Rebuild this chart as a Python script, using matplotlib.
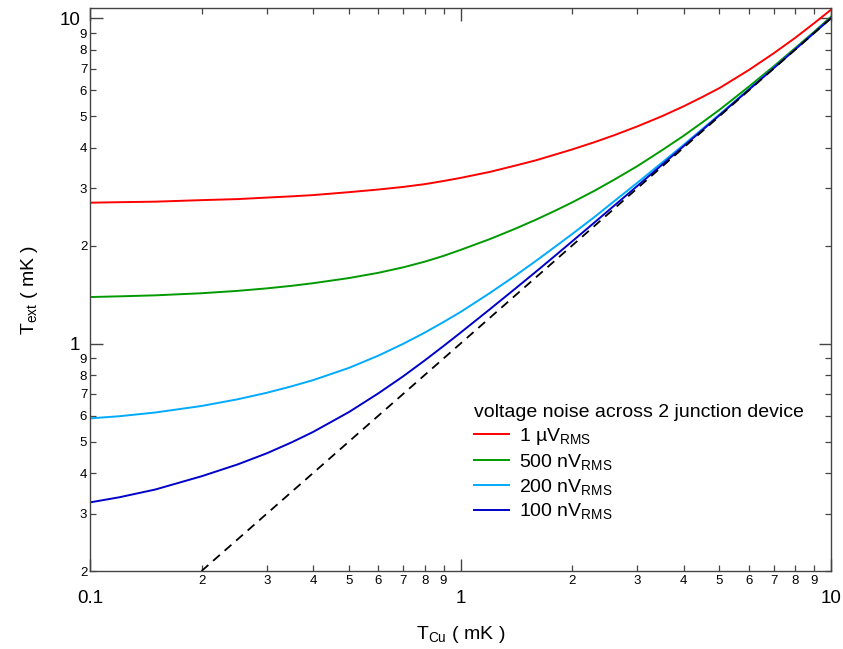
import numpy as np
import matplotlib
matplotlib.use("Agg")
from matplotlib import pyplot as plt
from matplotlib.ticker import LogLocator, FuncFormatter

plt.rcParams['font.family'] = ['Liberation Sans', 'DejaVu Sans']
plt.rcParams['mathtext.fontset'] = 'custom'
plt.rcParams['mathtext.rm'] = 'Liberation Sans'
plt.rcParams['mathtext.it'] = 'Liberation Sans:italic'

# T_Cu (mK) sample points
t_cu = [0.1, 0.12, 0.15, 0.2, 0.25, 0.3, 0.35, 0.4, 0.5, 0.6, 0.7, 0.8, 0.9, 1.0,
        1.2, 1.4, 1.6, 1.8, 2.0, 2.3, 2.6, 3.0, 3.5, 4.0, 4.5, 5.0, 6.0, 7.0, 8.0,
        9.0, 10.0]

# T_ext (mK) for each voltage noise level
t_1uv = [2.71, 2.72, 2.73, 2.76, 2.78, 2.81, 2.835, 2.86, 2.92, 2.975, 3.03, 3.09,
         3.16, 3.23, 3.37, 3.52, 3.66, 3.81, 3.95, 4.16, 4.37, 4.65, 5.0, 5.36, 5.73,
         6.1, 6.93, 7.8, 8.7, 9.65, 10.62]
t_500nv = [1.39, 1.397, 1.407, 1.428, 1.452, 1.478, 1.505, 1.533, 1.59, 1.65, 1.715,
           1.785, 1.86, 1.94, 2.095, 2.25, 2.405, 2.56, 2.715, 2.95, 3.19, 3.51, 3.93,
           4.35, 4.79, 5.23, 6.16, 7.11, 8.09, 9.08, 10.1]
t_200nv = [0.589, 0.598, 0.614, 0.643, 0.674, 0.706, 0.739, 0.772, 0.842, 0.918, 0.998,
           1.08, 1.165, 1.25, 1.43, 1.612, 1.797, 1.984, 2.17, 2.45, 2.74, 3.12, 3.6,
           4.08, 4.57, 5.06, 6.05, 7.04, 8.03, 9.02, 10.02]
t_100nv = [0.325, 0.337, 0.356, 0.391, 0.425, 0.46, 0.497, 0.535, 0.616, 0.703, 0.793,
           0.887, 0.983, 1.08, 1.275, 1.47, 1.665, 1.862, 2.06, 2.357, 2.655, 3.05,
           3.545, 4.04, 4.535, 5.03, 6.025, 7.02, 8.015, 9.01, 10.01]

labels = ['1 µV$_{\\mathrm{RMS}}$', '500 nV$_{\\mathrm{RMS}}$',
          '200 nV$_{\\mathrm{RMS}}$', '100 nV$_{\\mathrm{RMS}}$']
colors = ['#ff0000', '#009a00', '#00aaff', '#0000c8']

# ideal line T_ext = T_Cu
ideal = [0.2, 10.0]

fig = plt.figure(figsize=(8.43, 6.49), dpi=100)
ax = fig.add_axes([90 / 843, 1 - 571 / 649, 741 / 843, 563 / 649])

for ys, lab, c in zip([t_1uv, t_500nv, t_200nv, t_100nv], labels, colors):
    ax.plot(t_cu, ys, color=c, lw=1.4, label=lab)
ax.plot(ideal, ideal, color='black', lw=1.3, ls=(0, (5, 3.5)))

ax.set_xscale('log')
ax.set_yscale('log')
ax.set_xlim(0.1, 10)
ax.set_ylim(0.2, 10.75)

for axis in (ax.xaxis, ax.yaxis):
    axis.set_major_locator(LogLocator(base=10, numticks=10))
    axis.set_minor_locator(LogLocator(base=10, subs=np.arange(2, 10), numticks=20))
    axis.set_major_formatter(FuncFormatter(lambda v, p: f"{v:g}"))
    axis.set_minor_formatter(FuncFormatter(
        lambda v, p: str(int(round(v / 10 ** np.floor(np.log10(v) + 1e-9))))))

ax.tick_params(which='both', direction='in', top=True, right=True, color='#444444')
ax.tick_params(which='major', length=9, width=1.0, labelsize=13.5)
ax.tick_params(which='minor', length=4.5, width=0.9, labelsize=9.5)
ax.tick_params(axis='x', which='major', pad=14)
ax.tick_params(axis='x', which='minor', pad=3)
ax.tick_params(axis='y', which='major', pad=7)
ax.tick_params(axis='y', which='minor', pad=2)
for s in ax.spines.values():
    s.set_color('#444444')
    s.set_linewidth(1.0)

ax.set_xlabel('T$_{\\mathrm{Cu}}$ ( mK )', fontsize=14, labelpad=12)
ax.set_ylabel('T$_{\\mathrm{ext}}$ ( mK )', fontsize=14, labelpad=14)

leg = ax.legend(loc='upper left', bbox_to_anchor=(472 / 843, 1 - 402 / 649),
                bbox_transform=fig.transFigure, frameon=False, fontsize=14,
                title='voltage noise across 2 junction device', title_fontsize=14,
                alignment='left', handlelength=1.8, handletextpad=0.5,
                labelspacing=0.25, borderpad=0.1, borderaxespad=0.0)

plt.savefig("out.png", dpi=100)
